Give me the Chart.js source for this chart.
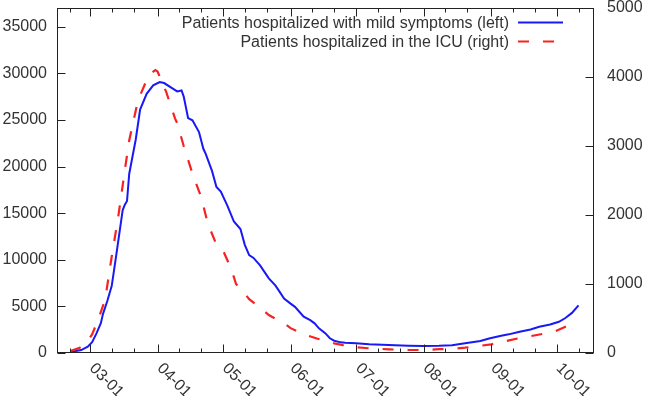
<!DOCTYPE html>
<html>
<head>
<meta charset="utf-8">
<script src="https://cdn.jsdelivr.net/npm/chart.js@4.4.1/dist/chart.umd.min.js"></script>
<style>
  html, body { margin: 0; padding: 0; background: #fff; }
  #wrap { width: 645px; height: 396px; }
</style>
</head>
<body>
<div id="wrap"><canvas id="chart"></canvas></div>
<script>
// days counted from 03-01 (2020)
const monthDays = [0, 31, 61, 92, 122, 153, 184, 214];
const monthLabels = ['03-01', '04-01', '05-01', '06-01', '07-01', '08-01', '09-01', '10-01'];
const minorDays = [-9, 10, 20, 41, 51, 71, 81, 102, 112, 132, 142, 163, 173, 194, 204, 224];
const leftTicks = [0, 5000, 10000, 15000, 20000, 25000, 30000, 35000];
const rightTicks = [0, 1000, 2000, 3000, 4000, 5000];

const mildDays = [-9, -4, -1, 1, 3, 5, 6, 8, 10, 12, 15, 16, 17, 18, 21, 23, 26, 29, 32, 34,
  38, 40, 42, 43, 45, 47, 50, 52, 53, 56, 58, 60, 63, 66, 69, 71, 73, 75, 78, 80,
  82, 85, 87, 89, 92, 94, 96, 98, 101, 103, 105, 108, 110, 112, 115, 117, 122, 128, 137, 146,
  153, 160, 166, 172, 179, 183, 188, 192, 197, 202, 206, 211, 215, 218, 221, 224];
const mildValues = [100, 320, 680, 1150, 2100, 3200, 4200, 5600, 7200, 10400, 15300, 15900, 16300, 19200, 22900, 26100, 27800, 28700, 29050, 28950,
  28350, 28050, 28150, 27500, 25200, 24950, 23700, 21900, 21400, 19500, 17800, 17300, 15800, 14100, 13300, 11600, 10500, 10200, 9400, 8700,
  8000, 7250, 6550, 5850, 5300, 4950, 4420, 3900, 3520, 3180, 2650, 2100, 1580, 1320, 1140, 1100, 1040, 930, 860, 790,
  750, 770, 830, 1040, 1280, 1560, 1820, 2000, 2280, 2520, 2820, 3060, 3350, 3750, 4300, 5100];

const icuDays = [-9, -5, -2, 1, 4, 7, 10, 13, 16, 18, 22, 25, 27, 30, 31, 35, 39, 40, 43, 47,
  51, 54, 58, 61, 65, 67, 71, 73, 79, 82, 89, 92, 99, 104, 112, 116, 122, 128, 137, 146,
  153, 160, 166, 172, 184, 196, 209, 213, 218, 221, 223];
const icuValues = [30, 70, 130, 270, 500, 780, 1400, 1980, 2650, 3080, 3660, 3880, 4030, 4100, 4080, 3780, 3400, 3330, 3000, 2600,
  2260, 1880, 1570, 1490, 1200, 1000, 860, 780, 630, 550, 430, 360, 260, 210, 140, 115, 83, 68, 53, 44,
  43, 55, 62, 77, 125, 210, 285, 310, 380, 420, 445];

const FONT = '"Liberation Sans", Arial, sans-serif';
const TXT = '#333';
const BLUE = 'rgb(25,25,245)';
const RED = 'rgb(245,35,35)';

const pts = (xs, ys) => xs.map((d, i) => ({ x: d, y: ys[i] }));

// gnuplot style frame: box border, inward ticks, tick labels, slanted dates, legend
const framePlugin = {
  id: 'frame',
  afterDraw(chart) {
    const { ctx, chartArea: a, scales: { x, y, y2 } } = chart;
    ctx.save();
    ctx.strokeStyle = '#222';
    ctx.lineWidth = 1;
    const L = Math.round(a.left) + 0.5, R = Math.round(a.right) - 0.5;
    const T = Math.round(a.top) + 0.5, B = Math.round(a.bottom) - 0.5;
    ctx.strokeRect(L, T, R - L, B - T);

    ctx.beginPath();
    const xt = (d, len) => {
      const px = Math.round(x.getPixelForValue(d)) + 0.5;
      ctx.moveTo(px, B); ctx.lineTo(px, B - len);
      ctx.moveTo(px, T); ctx.lineTo(px, T + len);
    };
    monthDays.forEach(d => xt(d, 8));
    minorDays.forEach(d => xt(d, 4));
    leftTicks.forEach(v => {
      const py = Math.round(y.getPixelForValue(v)) + 0.5;
      ctx.moveTo(L, py); ctx.lineTo(L + 8, py);
    });
    rightTicks.forEach(v => {
      const py = Math.round(y2.getPixelForValue(v)) + 0.5;
      ctx.moveTo(R, py); ctx.lineTo(R - 8, py);
    });
    ctx.stroke();

    ctx.fillStyle = TXT;
    ctx.font = '16px ' + FONT;
    ctx.textBaseline = 'middle';
    ctx.textAlign = 'right';
    leftTicks.forEach(v => ctx.fillText(String(v), a.left - 10, y.getPixelForValue(v)));
    ctx.textAlign = 'left';
    rightTicks.forEach(v => ctx.fillText(String(v), a.right + 13, y2.getPixelForValue(v)));

    monthDays.forEach((d, i) => {
      ctx.save();
      ctx.translate(x.getPixelForValue(d) + 2, a.bottom + 13);
      ctx.rotate(Math.PI / 4);
      ctx.fillText(monthLabels[i], 0, 0);
      ctx.restore();
    });

    // legend, text right aligned with the sample line after it
    ctx.textAlign = 'right';
    ctx.textBaseline = 'alphabetic';
    chart.data.datasets.forEach((ds, i) => {
      const base = 28 + i * 19;
      ctx.fillStyle = TXT;
      ctx.fillText(ds.label, 509, base);
      ctx.beginPath();
      ctx.strokeStyle = ds.borderColor;
      ctx.lineWidth = ds.borderWidth;
      ctx.setLineDash(ds.borderDash || []);
      ctx.moveTo(518, base - 5.5);
      ctx.lineTo(563, base - 5.5);
      ctx.stroke();
    });
    ctx.restore();
  }
};

new Chart(document.getElementById('chart'), {
  type: 'line',
  data: {
    datasets: [
      {
        label: 'Patients hospitalized with mild symptoms (left)',
        data: pts(mildDays, mildValues),
        borderColor: BLUE, borderWidth: 2, pointRadius: 0, tension: 0,
        yAxisID: 'y', order: 2
      },
      {
        label: 'Patients hospitalized in the ICU (right)',
        data: pts(icuDays, icuValues),
        borderColor: RED, borderWidth: 2.2, borderDash: [11, 14], pointRadius: 0, tension: 0,
        yAxisID: 'y2', order: 1
      }
    ]
  },
  options: {
    responsive: true, maintainAspectRatio: false, animation: false,
    devicePixelRatio: 1,
    layout: { padding: { top: 8, left: 0, right: 0, bottom: 0 } },
    plugins: { legend: { display: false }, tooltip: { enabled: false } },
    scales: {
      x: {
        type: 'linear', min: -15.1, max: 231.1,
        ticks: { display: false },
        grid: { display: false, drawTicks: false },
        border: { display: false },
        afterFit: s => { s.height = 43; }
      },
      y: {
        position: 'left', min: 0, max: 37000,
        ticks: { display: false },
        grid: { display: false, drawTicks: false },
        border: { display: false },
        afterFit: s => { s.width = 57; }
      },
      y2: {
        position: 'right', min: 0, max: 5000,
        ticks: { display: false },
        grid: { display: false, drawTicks: false },
        border: { display: false },
        afterFit: s => { s.width = 51; }
      }
    }
  },
  plugins: [framePlugin]
});
</script>
</body>
</html>
